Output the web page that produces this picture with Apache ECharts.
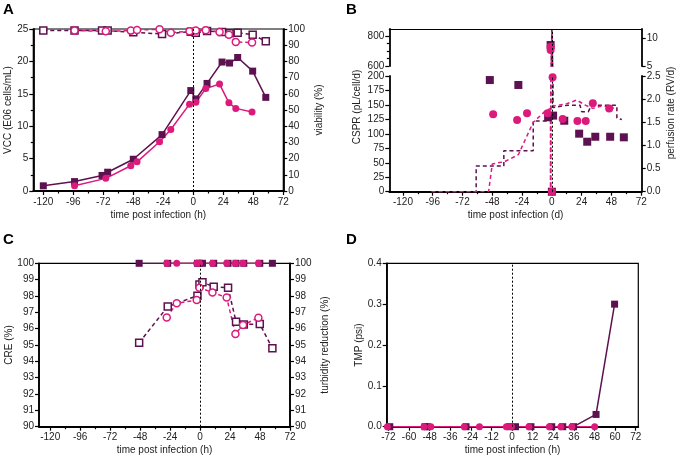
<!DOCTYPE html>
<html><head><meta charset="utf-8">
<script src="https://cdn.jsdelivr.net/npm/echarts@6/dist/echarts.min.js"></script>
<style>html,body{margin:0;padding:0;background:#fff}#c{width:677px;height:459px}</style>
</head><body><div id="c"></div>
<script>
// ---------------- DATA ----------------
// Panel A: VCC (left axis) and viability (right axis)
const aTimePurple = [-120, -95, -73, -68.5, -48, -25, -2, 2, 11, 23, 29, 35.5, 47.5, 58];
const aVccPurple  = [0.8, 1.45, 2.4, 2.9, 4.9, 8.7, 15.5, 14.2, 16.6, 19.9, 19.75, 20.6, 18.5, 14.45];
const aViaPurple  = [99, 99, 99, 99, 98, 96.9, 98.3, 97.7, 98.8, 98.1, 97.3, 97.7, 96.5, 92.4];
const aTimePink   = [-95, -70, -50, -45, -27, -18, -3, 2, 10, 21, 28.5, 34, 47];
const aVccPink    = [0.82, 1.95, 3.9, 4.5, 7.6, 9.5, 13.4, 13.7, 15.8, 16.5, 13.6, 12.75, 12.2];
const aViaPink    = [99, 98.6, 99, 99.4, 99.8, 97.7, 98.6, 99, 99.2, 98.1, 96.5, 92, 91.6];

// Panel B: CSPR (left, broken axis) and perfusion rate (right, broken axis)
const bTimePurple = [-50, -27, -3, -1, 0, 1, 10, 22, 28.5, 35, 47, 58];
const bCsprPurple = [193, 184.5, 128.7, 740, 0, 131.5, 122.7, 100.3, 86.4, 95, 95, 94];
const bTimePink   = [-47.3, -28, -20, -3.4, -1, -1, 0.6, 0, 8.7, 20.6, 27.3, 33, 46.2];
const bCsprPink   = [134, 124, 135.5, 135.5, 729, 707, 197.7, 0, 125.7, 122.2, 122.2, 152.8, 144];
const bPerfTimePurple = [-97, -61, -61, -38.7, -38.7, -15, -15, -1, -1, 0, 0, 1, 1, 13, 22.7, 24, 29.4, 31, 32, 52.4, 52.4, 56.4];
const bPerfPurple     = [0, 0, 0.555, 0.555, 0.886, 0.886, 1.53, 1.53, 0, 0, 11.5, 11.5, 1.82, 1.87, 1.87, 1.73, 1.73, 1.73, 1.87, 1.87, 1.59, 1.56];
const bPerfTimePink   = [-97, -51, -48, -38, -27, -15, -5, -1, -1, 0, 0, 1, 1, 12, 20, 27, 33, 40, 48, 50];
const bPerfPink       = [0, 0, 0.6, 0.65, 0.8, 1.5, 1.75, 1.8, 0, 0, 11.5, 11.5, 1.85, 1.9, 1.98, 1.87, 1.8, 1.85, 1.83, 1.8];

// Panel C: CRE (left) and turbidity reduction (right)
const cTimePurple = [-48.8, -25.9, -2.1, -0.5, 1.9, 10.9, 22.4, 28.8, 35, 47.8, 57.9];
const cCrePurple  = [100, 100, 100, 100, 100, 100, 100, 100, 100, 100, 100];
const cTurbPurple = [95.14, 97.35, 98.02, 98.71, 98.84, 98.57, 98.51, 96.42, 96.26, 96.28, 94.8];
const cTimePink   = [-26.7, -18.7, -2.7, -0.5, 9.9, 21.3, 28.3, 34.4, 46.7];
const cCrePink    = [100, 100, 100, 100, 100, 100, 100, 100, 100];
const cTurbPink   = [96.69, 97.55, 97.75, 98.5, 98.22, 97.9, 95.67, 96.22, 96.67];

// Panel D: TMP
const dTimePurple = [-71.2, -50.7, -49.3, -26.8, -1.4, 2, 11, 23.1, 29.5, 35.8, 48.9, 59.7];
const dTmpPurple  = [0, 0, 0, 0, 0, 0, 0, 0, 0, 0, 0.03, 0.3];
const dTimePink   = [-72.6, -51.3, -47.3, -27.8, -19, -3.3, -0.4, 9.8, 21.7, 28.4, 34.8, 48.1];
const dTmpPink    = [0, 0, 0, 0, 0, 0, 0, 0, 0, 0, 0, 0];

// Tick labels
const xTicksH   = [-120, -96, -72, -48, -24, 0, 24, 48, 72];
const xMinorH   = [-108, -84, -60, -36, -12, 12, 36, 60];
const dTicksH   = [-72, -60, -48, -36, -24, -12, 0, 12, 24, 36, 48, 60, 72];
const bUpLeftTicks  = [600, 800];
const bUpLeftMinor  = [650, 700, 750];
const bUpRightTicks = [5, 10];

// ---------------- STYLE ----------------
const PURPLE = '#5c1150', PINK = '#dc1a7c';
const FONT = 'Liberation Sans, Arial, sans-serif';
const TXT = '#222';
const AXW = 1.8;

function pts(xs, ys) { return xs.map((x, i) => [x, ys[i]]); }

const labelStyle = { color: TXT, fontFamily: FONT, fontSize: 10 };
const nameStyle = { color: TXT, fontFamily: FONT, fontSize: 10 };

function xMain(grid, min, max, ticks, name, extra) {
  return Object.assign({
    type: 'value', gridIndex: grid, min, max, position: 'bottom',
    name, nameLocation: 'middle', nameGap: 19, nameTextStyle: nameStyle, nameMoveOverlap: false,
    axisLine: { show: true, onZero: false, lineStyle: { color: '#000', width: AXW } },
    axisTick: { show: true, inside: false, length: 4, customValues: ticks, lineStyle: { color: '#000', width: 1.2 } },
    axisLabel: { show: true, customValues: ticks, margin: 6, ...labelStyle },
    splitLine: { show: false }
  }, extra || {});
}
function xMinor(grid, min, max, ticks) {
  return {
    type: 'value', gridIndex: grid, min, max, position: 'bottom',
    axisLine: { show: false, onZero: false },
    axisTick: { show: true, length: 2.5, customValues: ticks, lineStyle: { color: '#000', width: 1.2 } },
    axisLabel: { show: false }, splitLine: { show: false }
  };
}
function yAx(grid, pos, min, max, interval, name, gap, extra) {
  return Object.assign({
    type: 'value', gridIndex: grid, position: pos, min, max, interval,
    name, nameLocation: 'middle', nameGap: gap, nameTextStyle: nameStyle, nameMoveOverlap: false,
    axisLine: { show: true, onZero: false, lineStyle: { color: '#000', width: AXW } },
    axisTick: { show: true, length: 4, lineStyle: { color: '#000', width: 1.2 } },
    axisLabel: { show: true, margin: 5, ...labelStyle },
    splitLine: { show: false }
  }, extra || {});
}

const vline = {
  silent: true, symbol: 'none', label: { show: false },
  lineStyle: { type: [2, 2], color: '#000', width: 1 },
  data: [{ xAxis: 0 }], animation: false
};

function lineS(xi, yi, xs, ys, color, symbol, opt) {
  opt = opt || {};
  return {
    type: 'line', xAxisIndex: xi, yAxisIndex: yi, data: pts(xs, ys),
    symbol, symbolSize: opt.size || 7, showSymbol: true, clip: true,
    lineStyle: { color, width: 1.5, type: opt.dash ? [4, 3] : 'solid' },
    itemStyle: opt.open ? { color: '#fff', borderColor: color, borderWidth: 1.5, opacity: 1 } : { color, borderWidth: 0, opacity: 1 },
    z: opt.z || 3, animation: false, markLine: opt.markLine
  };
}
function scatterS(xi, yi, xs, ys, color, symbol) {
  return {
    type: 'scatter', xAxisIndex: xi, yAxisIndex: yi, data: pts(xs, ys),
    symbol, symbolSize: 8, clip: true, itemStyle: { color, opacity: 1 }, z: 4, animation: false
  };
}
function perfS(xi, yi, xs, ys, color, ml) {
  return {
    type: 'line', xAxisIndex: xi, yAxisIndex: yi, data: pts(xs, ys),
    symbol: 'none', showSymbol: false, clip: true,
    lineStyle: { color, width: 1.5, type: [4, 3] }, z: 2, animation: false, markLine: ml
  };
}

const grids = [
  { left: 33.3, top: 29, width: 250, height: 162, show: true, borderColor: '#000', borderWidth: 1.2, outerBoundsMode: 'none', containLabel: false },
  { left: 389.3, top: 76, width: 252.4, height: 115.7, outerBoundsMode: 'none', containLabel: false },
  { left: 389.3, top: 29, width: 252.4, height: 37, outerBoundsMode: 'none', containLabel: false },
  { left: 39, top: 263.3, width: 251, height: 163.4, show: true, borderColor: '#000', borderWidth: 1.2, outerBoundsMode: 'none', containLabel: false },
  { left: 386.7, top: 263.3, width: 251.6, height: 163.4, show: true, borderColor: '#000', borderWidth: 1.2, outerBoundsMode: 'none', containLabel: false }
];

const xAxis = [
  xMain(0, -128, 72, xTicksH, 'time post infection (h)'),          // 0
  xMinor(0, -128, 72, xMinorH),                                       // 1
  xMain(1, -131, 72.4, xTicksH, 'time post infection (d)'),          // 2
  xMinor(1, -131, 72.4, xMinorH),                                     // 3
  { type: 'value', gridIndex: 2, min: -131, max: 72.4, position: 'top',
    axisLine: { show: true, onZero: false, lineStyle: { color: '#000', width: 1.2 } },
    axisTick: { show: false }, axisLabel: { show: false }, splitLine: { show: false } }, // 4
  xMain(3, -129, 72, xTicksH, 'time post infection (h)'),          // 5
  xMinor(3, -129, 72, xMinorH),                                       // 6
  xMain(4, -73, 73.5, dTicksH, 'time post infection (h)')           // 7
];

const yAxis = [
  yAx(0, 'left', 0, 25, 5, 'VCC (E06 cells/mL)', 20, { minorTick: { show: true, splitNumber: 2, length: 2.5, lineStyle: { color: '#000', width: 1.2 } } }), // 0
  yAx(0, 'right', 0, 100, 10, 'viability (%)', 31),                  // 1
  yAx(1, 'left', 0, 200, 25, '', 0),                                   // 2
  yAx(1, 'right', 0, 2.5, 0.5, '', 0, { axisLabel: { show: true, margin: 5, ...labelStyle, formatter: v => v.toFixed(1) } }), // 3
  yAx(2, 'left', 600, 847, 200, '', 0, { axisTick: { show: true, length: 4, customValues: bUpLeftTicks, lineStyle: { color: '#000', width: 1.2 } }, axisLabel: { show: true, margin: 5, customValues: bUpLeftTicks, ...labelStyle } }), // 4
  yAx(2, 'right', 5, 11.68, 5, '', 0, { axisTick: { show: true, length: 4, customValues: bUpRightTicks, lineStyle: { color: '#000', width: 1.2 } }, axisLabel: { show: true, margin: 5, customValues: bUpRightTicks, ...labelStyle } }), // 5
  yAx(3, 'left', 90, 100, 1, 'CRE (%)', 25),                         // 6
  yAx(3, 'right', 90, 100, 1, 'turbidity reduction (%)', 30),        // 7
  yAx(4, 'left', 0, 0.4, 0.1, 'TMP (psi)', 22, { axisLabel: { show: true, margin: 5, ...labelStyle, formatter: v => v.toFixed(1) } }), // 8
  { type: 'value', gridIndex: 2, position: 'left', min: 600, max: 847,
    axisLine: { show: false, onZero: false }, axisLabel: { show: false }, splitLine: { show: false },
    axisTick: { show: true, length: 2.5, customValues: bUpLeftMinor, lineStyle: { color: '#000', width: 1.2 } } } // 9
];

const series = [
  // A
  lineS(0, 1, aTimePurple, aViaPurple, PURPLE, 'rect', { dash: true, open: true, markLine: vline }),
  lineS(0, 1, aTimePink, aViaPink, PINK, 'circle', { dash: true, open: true }),
  lineS(0, 0, aTimePurple, aVccPurple, PURPLE, 'rect'),
  lineS(0, 0, aTimePink, aVccPink, PINK, 'circle'),
  // B lower
  perfS(2, 3, bPerfTimePurple, bPerfPurple, PURPLE, vline),
  perfS(2, 3, bPerfTimePink, bPerfPink, PINK),
  scatterS(2, 2, bTimePurple, bCsprPurple, PURPLE, 'rect'),
  scatterS(2, 2, bTimePink, bCsprPink, PINK, 'circle'),
  // B upper
  perfS(4, 5, bPerfTimePurple, bPerfPurple, PURPLE, vline),
  perfS(4, 5, bPerfTimePink, bPerfPink, PINK),
  scatterS(4, 4, bTimePurple, bCsprPurple, PURPLE, 'rect'),
  scatterS(4, 4, bTimePink, bCsprPink, PINK, 'circle'),
  // C
  lineS(5, 7, cTimePurple, cTurbPurple, PURPLE, 'rect', { dash: true, open: true, markLine: vline }),
  lineS(5, 7, cTimePink, cTurbPink, PINK, 'circle', { dash: true, open: true }),
  lineS(5, 6, cTimePurple, cCrePurple, PURPLE, 'rect'),
  lineS(5, 6, cTimePink, cCrePink, PINK, 'circle'),
  // D
  lineS(7, 8, dTimePurple, dTmpPurple, PURPLE, 'rect', { markLine: vline }),
  lineS(7, 8, dTimePink, dTmpPink, PINK, 'circle')
];

const letter = (t, x, y) => ({ type: 'text', x, y, style: { text: t, font: 'bold 15px ' + FONT, fill: '#000' } });
const rotName = (t, x, y) => ({ type: 'text', x, y, rotation: Math.PI / 2,
  style: { text: t, font: '10px ' + FONT, fill: TXT, align: 'center', verticalAlign: 'middle' } });

const chart = echarts.init(document.getElementById('c'), null, { renderer: 'canvas' });
chart.setOption({
  animation: false,
  backgroundColor: '#fff',
  grid: grids, xAxis, yAxis, series,
  graphic: [
    letter('A', 3, 2), letter('B', 346, 2), letter('C', 3, 232), letter('D', 346, 232),
    rotName('CSPR (pL/cell/d)', 357.5, 107),
    rotName('perfusion rate (RV/d)', 671.5, 113)
  ]
});
</script></body></html>
